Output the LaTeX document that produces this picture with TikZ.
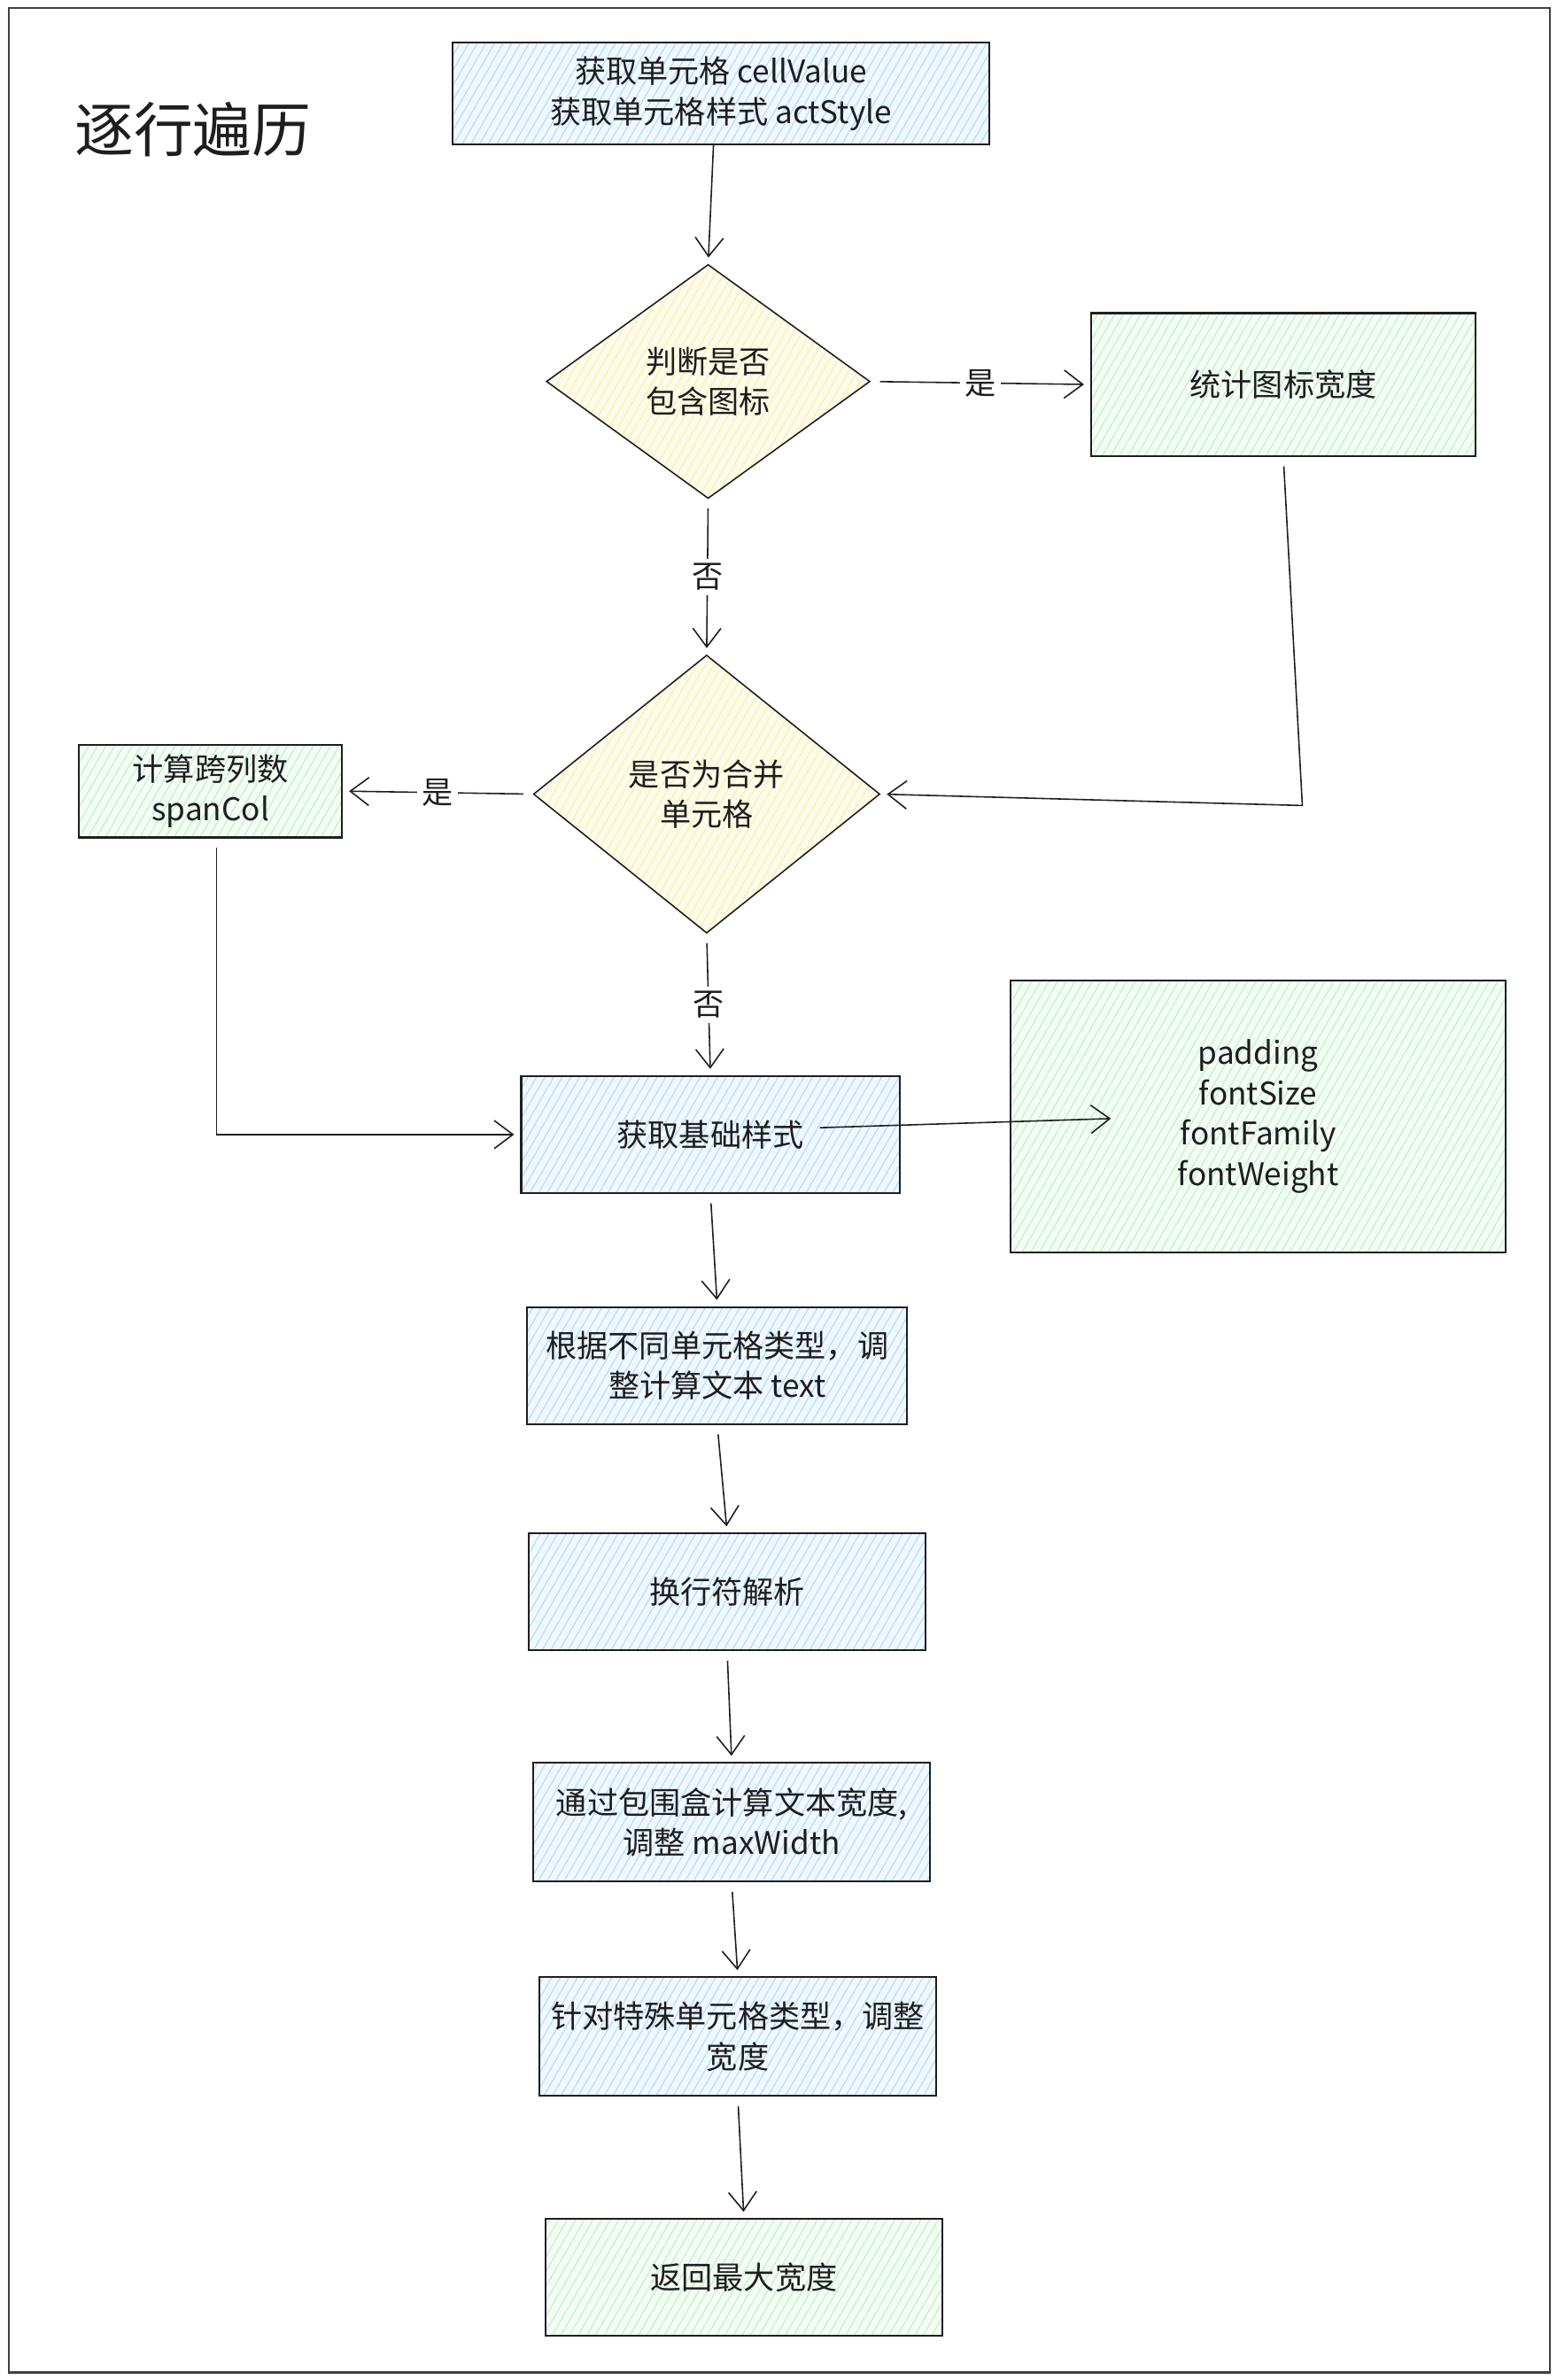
\documentclass[tikz,border=0pt]{standalone}
\usepackage{fontspec}
\setmainfont{Noto Sans CJK SC}
\usetikzlibrary{shapes.geometric,arrows.meta,patterns.meta}
\newcommand{\unitpx}{0.017158cm}
\definecolor{ink}{HTML}{1E1E1E}
\definecolor{blueL}{HTML}{B9E0FF}
\definecolor{blueF}{HTML}{F1F8FF}
\definecolor{greenL}{HTML}{C4F5CB}
\definecolor{greenF}{HTML}{F4FCF5}
\definecolor{yellowL}{HTML}{FFEFAE}
\definecolor{yellowF}{HTML}{FFFCEE}
\tikzset{
  sz/.style 2 args={minimum width=#1*\unitpx, minimum height=#2*\unitpx},
  txt/.style={text=ink, font=\fontsize{10}{13}\selectfont, align=center, inner sep=0pt},
  hatch/.style 2 args={draw=ink, line width=0.6pt, preaction={fill=#2},
    pattern={Lines[angle=60,distance=2.4pt,line width=0.4pt]}, pattern color=#1},
  bluebox/.style={rectangle, txt, hatch={blueL}{blueF}},
  greenbox/.style={rectangle, txt, hatch={greenL}{greenF}},
  ask/.style={diamond, txt, hatch={yellowL}{yellowF}, line width=0.45pt},
  arr/.style={draw=ink, line width=0.45pt, -{Straight Barb[length=6pt,width=9pt]}, shorten <=3pt, shorten >=2pt},
  lab/.style={midway, fill=white, text=ink, font=\fontsize{10}{12}\selectfont, inner sep=1.5pt}
}
\begin{document}
\begin{tikzpicture}[x=\unitpx, y=-\unitpx]
  \useasboundingbox (0,0) rectangle (1024,1566);
  \draw[ink!85, line width=0.6pt] (6,5) rectangle (1020,1561);

  \node[text=ink, font=\fontsize{19}{22}\selectfont] (title) at (127,85) {逐行遍历};

  \node[bluebox, sz={353}{67}] (cell) at (474.5,61.5) {获取单元格 cellValue\\获取单元格样式 actStyle};
  \node[ask, sz={213}{154}] (icon) at (466,251) {判断是否\\包含图标};
  \node[greenbox, sz={253}{94}] (iconw) at (844.5,253) {统计图标宽度};
  \node[ask, sz={228}{183}] (merge) at (465,522.5) {是否为合并\\单元格};
  \node[greenbox, sz={173}{61}] (span) at (138.5,520.5) {计算跨列数\\spanCol};
  \node[bluebox, sz={249}{77}] (base) at (467.5,746.5) {获取基础样式};
  \node[greenbox, sz={326}{179}] (props) at (828,734.5) {padding\\fontSize\\fontFamily\\fontWeight};
  \node[bluebox, sz={250}{77}] (adjust) at (472,898.5) {根据不同单元格类型，调\\整计算文本 text};
  \node[bluebox, sz={261}{77}] (wrap) at (478.5,1047.5) {换行符解析};
  \node[bluebox, sz={261}{78}] (bbox) at (481.5,1199) {通过包围盒计算文本宽度,\\调整 maxWidth};
  \node[bluebox, sz={261}{78}] (special) at (485.5,1340) {针对特殊单元格类型，调整\\宽度};
  \node[greenbox, sz={261}{77}] (ret) at (489.5,1498.5) {返回最大宽度};

  \coordinate (bend) at (857,530);

  \draw[arr, shorten <=0pt] ([xshift=-5*\unitpx]cell.south) -- (icon.north);
  \draw[arr] (icon.east) -- node[lab] {是} (iconw.west);
  \draw[arr] (icon.south) -- node[lab] {否} (merge.north);
  \draw[arr] (iconw.south) -- (bend) -- (merge.east);
  \draw[arr] (merge.west) -- node[lab] {是} (span.east);
  \draw[arr] (merge.south) -- node[lab] {否} (base.north);
  \draw[arr] ([xshift=4*\unitpx]span.south) |- (base.west);
  \draw[arr, shorten <=0pt, shorten >=0pt] ([xshift=72*\unitpx, yshift=4.5*\unitpx]base.center) -- ([xshift=-97*\unitpx, yshift=-1.5*\unitpx]props.center);
  \draw[arr] (base.south) -- (adjust.north);
  \draw[arr] (adjust.south) -- (wrap.north);
  \draw[arr] (wrap.south) -- (bbox.north);
  \draw[arr] (bbox.south) -- (special.north);
  \draw[arr] (special.south) -- (ret.north);
\end{tikzpicture}
\end{document}
